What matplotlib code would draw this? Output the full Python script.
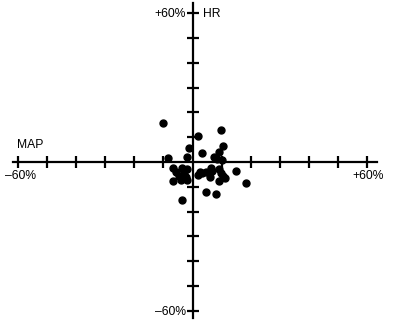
import matplotlib.pyplot as plt

# % change in MAP (x) and HR (y)
map_change = [-10.1, 9.7, 2.0, 10.6, -1.4, 9.1, 3.4, -8.3, -2.0, 7.4, 8.5, 10.0,
              -6.9, -5.6, -3.7, -2.9, -1.8, -4.6, -2.3, -6.9, -4.1, -1.8,
              2.6, 2.0, 3.4, 4.5, 6.3, 6.6, 5.9, 9.1, 9.7, 10.5, 9.1, 11.1,
              14.9, 18.3, 4.5, 8.0, -3.5]
hr_change = [15.8, 12.9, 10.5, 6.6, 5.5, 4.2, 3.8, 1.7, 2.1, 2.1, 1.1, 0.8,
             -2.5, -3.9, -2.5, -3.9, -3.0, -5.6, -6.2, -7.7, -7.3, -7.3,
             -3.9, -5.2, -4.6, -3.9, -2.3, -3.5, -6.2, -3.0, -4.3, -5.6, -7.7, -6.6,
             -3.5, -8.6, -12.2, -13.0, -15.3]
ticks = [-60, -50, -40, -30, -20, -10, 10, 20, 30, 40, 50, 60]

plt.rcParams['font.family'] = ['Liberation Sans', 'DejaVu Sans']

fig = plt.figure(figsize=(4, 3.25), dpi=100)
ax = fig.add_axes([0, 0, 1, 1])
ax.set_xlim(-66.2, 71.3)
ax.set_ylim(-65.7, 65.3)

# axes crossing at the origin
for side in ['right', 'top']:
    ax.spines[side].set_visible(False)
ax.spines['left'].set_position(('data', 0))
ax.spines['bottom'].set_position(('data', 0))
ax.spines['left'].set_bounds(-62.9, 64.1)
ax.spines['bottom'].set_bounds(-61.7, 63.4)
ax.spines['left'].set_linewidth(1.6)
ax.spines['bottom'].set_linewidth(1.6)
ax.set_xticks(ticks)
ax.set_yticks(ticks)
ax.tick_params(direction='inout', length=8, width=1.6, labelbottom=False, labelleft=False)

ax.plot(map_change, hr_change, 'o', color='black', markersize=5, zorder=3)

fs = 8.7
ax.text(-64.5, -5.6, '–60%', ha='left', va='center', fontsize=fs)
ax.text(54.8, -5.6, '+60%', ha='left', va='center', fontsize=fs)
ax.text(-60.2, 6.8, 'MAP', ha='left', va='center', fontsize=fs)
ax.text(-2.4, 59.5, '+60%', ha='right', va='center', fontsize=fs)
ax.text(3.6, 59.5, 'HR', ha='left', va='center', fontsize=fs)
ax.text(-2.4, -60.3, '–60%', ha='right', va='center', fontsize=fs)

fig.savefig('out.png', dpi=100)
